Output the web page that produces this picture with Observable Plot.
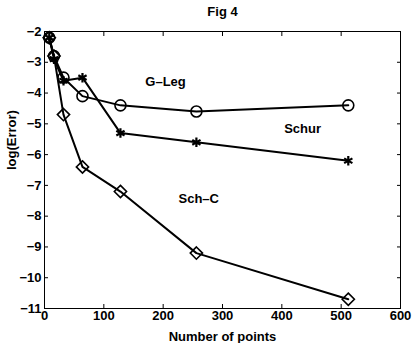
<!DOCTYPE html>
<html><head><meta charset="utf-8">
<script src="https://cdn.jsdelivr.net/npm/d3@7"></script>
<script src="https://cdn.jsdelivr.net/npm/@observablehq/plot@0.6"></script>
<style>
body{margin:0;background:#fff;}
svg{font-family:"Liberation Sans",Arial,sans-serif;font-weight:bold;}
</style></head>
<body><div id="chart"></div>
<script>
const points = [8, 16, 32, 64, 128, 256, 512];
const gLeg = [-2.2, -2.8, -3.5, -4.1, -4.4, -4.6, -4.4];
const schur = [-2.2, -2.9, -3.6, -3.5, -5.3, -5.6, -6.2];
const schC = [-2.2, -2.8, -4.7, -6.4, -7.2, -9.2, -10.7];
const seriesNames = ["G–Leg", "Schur", "Sch–C"];
const seriesSymbols = ["circle", "asterisk", "diamond2"];
const labelX = [204, 435, 260];
const labelY = [-3.65, -5.17, -7.45];
const xTicks = [0, 100, 200, 300, 400, 500, 600];
const yTicks = [-2, -3, -4, -5, -6, -7, -8, -9, -10, -11];
const title = "Fig 4";

const allVals = [gLeg, schur, schC];
const rows = [];
allVals.forEach((vals, s) => points.forEach((p, i) => rows.push({series: seriesNames[s], x: p, y: vals[i]})));
const labels = seriesNames.map((n, i) => ({name: n, x: labelX[i], y: labelY[i]}));
const starRows = rows.filter(d => d.series === "Schur");
const otherRows = rows.filter(d => d.series !== "Schur");

const chart = Plot.plot({
  width: 415, height: 343,
  marginLeft: 44, marginRight: 15, marginTop: 31, marginBottom: 35,
  style: {fontSize: "13px", fontFamily: "Liberation Sans, Arial, sans-serif", fontWeight: "bold", color: "black"},
  x: {domain: [0, 600]},
  y: {domain: [-11, -2]},
  symbol: {domain: seriesNames, range: seriesSymbols},
  marks: [
    Plot.frame({stroke: "black", strokeWidth: 1}),
    Plot.axisX({ticks: xTicks, tickSize: -4, tickPadding: 6, tickFormat: d => String(d), label: null, fontSize: 13}),
    Plot.axisX({ticks: xTicks, anchor: "top", tickSize: -4, tickFormat: () => "", label: null}),
    Plot.axisY({ticks: yTicks, tickSize: -4, tickPadding: 7, tickFormat: d => d < 0 ? "−" + Math.abs(d) : String(d), label: null, fontSize: 13}),
    Plot.axisY({ticks: yTicks, anchor: "right", tickSize: -4, tickFormat: () => "", label: null}),
    Plot.line(rows, {x: "x", y: "y", z: "series", stroke: "black", strokeWidth: 2}),
    Plot.dot(otherRows, {x: "x", y: "y", symbol: "series", stroke: "black", strokeWidth: 1.6, r: 5.5, fill: "none"}),
    Plot.dot(starRows, {x: "x", y: "y", symbol: "series", stroke: "black", strokeWidth: 2.2, r: 4.5, fill: "none"}),
    Plot.text(labels, {x: "x", y: "y", text: "name", fontSize: 13, fontWeight: "bold", fill: "black"}),
    Plot.text([title], {frameAnchor: "top", dy: -25, fontSize: 13, fontWeight: "bold", fill: "black"}),
    Plot.text(["Number of points"], {frameAnchor: "bottom", dy: 32, fontSize: 13, fontWeight: "bold", fill: "black"}),
    Plot.text(["log(Error)"], {frameAnchor: "left", dx: -33, rotate: -90, fontSize: 13, fontWeight: "bold", fill: "black"})
  ]
});
document.getElementById("chart").append(chart);
</script></body></html>
